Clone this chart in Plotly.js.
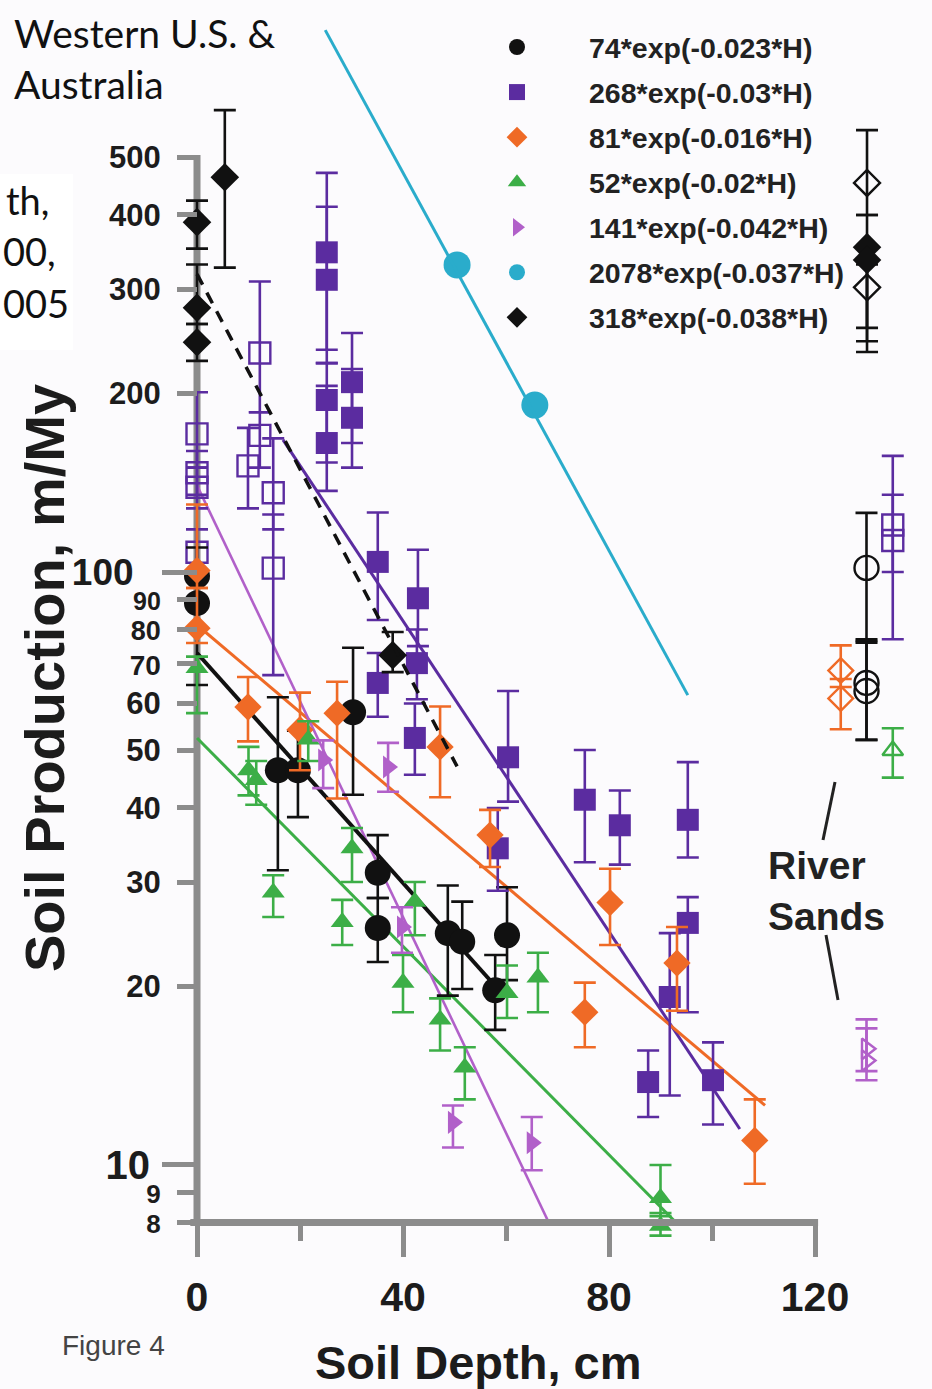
<!DOCTYPE html>
<html><head><meta charset="utf-8">
<script src="https://cdn.plot.ly/plotly-3.0.1.min.js"></script>
<style>html,body{margin:0;padding:0;background:#fcfbfd;} #chart{width:932px;height:1389px;}</style>
</head><body><div id="chart"></div>
<script>
// ---------- data ----------
const legendNames = ['74*exp(-0.023*H)','268*exp(-0.03*H)','81*exp(-0.016*H)','52*exp(-0.02*H)','141*exp(-0.042*H)','2078*exp(-0.037*H)','318*exp(-0.038*H)'];

const circX  = [0, 0, 15.7, 19.6, 30.3, 35.1, 35.1, 48.7, 51.5, 57.9, 60.2];
const circY  = [98.5, 88.6, 46.3, 46.3, 58, 31.1, 25.1, 24.6, 23.8, 19.7, 24.4];
const circHi = [110, 100, 61.5, 54, 74.5, 36.0, 28.2, 29.6, 27.8, 22.6, 29.4];
const circLo = [90, 64.5, 31.4, 38.6, 42.1, 28.2, 22.0, 19.3, 19.8, 16.9, 20.5];

const circOpenX  = [130, 130, 130];
const circOpenY  = [101.6, 65, 63];
const circOpenHi = [125.8, 76.5, 76];
const circOpenLo = [77, 52.1, 52.1];

const sqX  = [25.2, 25.2, 25.2, 25.2, 30.1, 30.1, 35.1, 35.1, 42.9, 42.7, 42.3, 60.4, 58.4, 75.3, 82.1, 95.3, 95.3, 91.8, 87.6, 100.2];
const sqY  = [346, 311, 195, 165, 209, 182, 104, 65, 90.3, 70.2, 52.5, 48.7, 34.2, 41.3, 37.4, 38.2, 25.6, 19.2, 13.8, 13.9];
const sqHi = [471, 413, 225, 206, 253, 220, 126, 73, 109, 80, 60, 63, 40, 50.1, 42.8, 47.8, 28.3, 24.6, 15.6, 16.1];
const sqLo = [237, 225, 153, 137, 165, 150, 83, 57, 75, 61, 45.5, 41, 29, 32.4, 32.1, 33, 18.1, 13.1, 12.05, 11.7];

const sqOpenX  = [0, 0, 0, 0, 9.9, 12.2, 12.2, 14.8, 14.8, 135.1, 135.1];
const sqOpenY  = [171, 147, 139, 108, 151, 234, 170, 136, 101.5, 120, 113];
const sqOpenHi = [201, 160, 150, 118, 175, 309, 186, 168, 125, 157, 135];
const sqOpenLo = [150, 135, 128, 100, 128, 186, 150, 118, 67, 77, 100];

const diaOX  = [0, 0, 9.9, 20, 27.2, 47.2, 56.9, 75.3, 80.2, 93.2, 108.3];
const diaOY  = [100.6, 80.4, 59.2, 54.2, 57.8, 50.7, 36.0, 18.1, 27.7, 21.9, 11.0];
const diaOHi = [130, 94, 66.5, 62.6, 65.3, 59.3, 39.7, 20.3, 31.6, 25.2, 12.9];
const diaOLo = [94, 75.9, 51.8, 46.3, 41.5, 41.7, 31.8, 15.8, 23.5, 18.2, 9.3];

const diaOOpenX  = [125, 125];
const diaOOpenY  = [68.2, 61.2];
const diaOOpenHi = [75.2, 66];
const diaOOpenLo = [64, 54.3];

const triX  = [0, 10, 11.5, 14.8, 21.6, 28.2, 30.1, 40, 42.3, 47.2, 52, 60.2, 66.2, 90, 90];
const triY  = [68.9, 46.3, 44.6, 28.8, 52.2, 25.7, 34.2, 20.3, 27.8, 17.6, 14.6, 19.5, 20.7, 8.8, 7.9];
const triHi = [72, 50.7, 48, 30.8, 56, 28.0, 37, 22.6, 30, 19.1, 15.8, 21.7, 22.8, 10, 8.3];
const triLo = [57.8, 42, 40.5, 26.2, 48, 23.5, 30, 18.1, 24.4, 15.6, 12.9, 17.7, 18.1, 8.2, 7.6];

const triOpenX  = [135.1];
const triOpenY  = [50];
const triOpenHi = [54.5];
const triOpenLo = [45];

const rtX  = [24.5, 37.1, 39.8, 49.7, 65];
const rtY  = [48.2, 46.9, 25.2, 11.8, 10.9];
const rtHi = [52, 51.5, 27.2, 12.6, 12.05];
const rtLo = [43.2, 42.6, 22.8, 10.7, 9.8];

const rtOpenX  = [130, 130];
const rtOpenY  = [15.7, 15.0];
const rtOpenHi = [17.6, 17.0];
const rtOpenLo = [14.4, 13.9];

const cyanX = [50.5, 65.6];
const cyanY = [329.5, 191.2];

const diaKX  = [0, 0, 0, 5.4, 38, 130.1, 130.1];
const diaKY  = [389, 279, 244, 463, 72.4, 353, 336];
const diaKHi = [423, 330, 262, 601, 79.2, 400, 353];
const diaKLo = [351, 262, 227, 326, 67.8, 245, 235];

const diaKOpenX  = [130.1, 130.1];
const diaKOpenY  = [453, 302];
const diaKOpenHi = [556, 330];
const diaKOpenLo = [400, 258];

// fit lines (end points)
const fitBlackX = [0, 58],      fitBlackY = [73, 20];
const fitPurpleX = [16.7, 105.4], fitPurpleY = [167, 11.5];
const fitOrangeX = [0, 110.3],  fitOrangeY = [81.4, 12.6];
const fitGreenX = [0, 93],      fitGreenY = [52.5, 8.0];
const fitMagX = [0, 68.3],      fitMagY = [140, 8.0];
const fitCyanX = [24.9, 95.3],  fitCyanY = [820, 62];
const fitDashX = [0, 50.5],     fitDashY = [318, 47];

const yTickVals = [8, 9, 20, 30, 40, 50, 60, 70, 80, 90, 200, 300, 400, 500];
const yTickText = ['<span style="font-size:26px">8</span>','<span style="font-size:26px">9</span>','20','30','40','50','60','<span style="font-size:28px">70</span>','<span style="font-size:27px">80</span>','<span style="font-size:25px">90</span>','200','300','400','500'];
const yHundredVals = [100], yHundredText = ['100'];
const yTenVals = [10], yTenText = ['10'];

// ---------- styling ----------
const C = {black:'#111111', purple:'#5b2ca0', orange:'#ef6a26', green:'#3cae47', mag:'#b160c9', cyan:'#2aaccb', axis:'#8c8c8c', text:'#1c1c1c'};
const FONT = 'Liberation Sans, Arial, Helvetica, sans-serif';

// plot area in pixels
const L = 166, T = 15, W = 746, H = 1225;
const fx = p => (p - L) / W;
const fy = p => (T + H - p) / H;
const yLogMin = 0.8735, yLogMax = 2.9393;
const yFrac = v => (Math.log10(v) - yLogMin) / (yLogMax - yLogMin);

function err(y, hi, lo, color) {
  return {type:'data', symmetric:false, array: hi.map((h,i)=>h-y[i]), arrayminus: y.map((v,i)=>v-lo[i]), color: color, thickness: 2.6, width: 11};
}
function lineTrace(x, y, color, width, dash, yax) {
  return {x:x, y:y, yaxis: yax || 'y', mode:'lines', line:{color:color, width:width, dash:dash||'solid'}, showlegend:false, hoverinfo:'skip'};
}
function pts(x, y, hi, lo, color, symbol, size, name, group, openMarker) {
  const t = {x:x, y:y, mode:'markers', name:name || '', showlegend: !!name, legendgroup: group,
    marker:{color:color, symbol:symbol, size:size, line: openMarker ? {color:color, width:2.4} : {width:0}}};
  if (hi) t.error_y = err(y, hi, lo, color);
  return t;
}

const traces = [
  lineTrace(fitPurpleX, fitPurpleY, C.purple, 3),
  lineTrace(fitOrangeX, fitOrangeY, C.orange, 3),
  lineTrace(fitGreenX, fitGreenY, C.green, 3),
  lineTrace(fitMagX, fitMagY, C.mag, 2.6),
  lineTrace(fitBlackX, fitBlackY, C.black, 4),

  pts(sqOpenX, sqOpenY, sqOpenHi, sqOpenLo, C.purple, 'square-open', 21, null, 'g2', true),
  pts(circOpenX, circOpenY, circOpenHi, circOpenLo, C.black, 'circle-open', 24, null, 'g1', true),
  pts(diaOOpenX, diaOOpenY, diaOOpenHi, diaOOpenLo, C.orange, 'diamond-open', 19, null, 'g3', true),
  pts(triOpenX, triOpenY, triOpenHi, triOpenLo, C.green, 'triangle-up-open', 18, null, 'g4', true),
  pts(rtOpenX, rtOpenY, rtOpenHi, rtOpenLo, C.mag, 'triangle-right-open', 18, null, 'g5', true),
  pts(diaKOpenX, diaKOpenY, diaKOpenHi, diaKOpenLo, C.black, 'diamond-open', 20, null, 'g7', true),

  pts(circX, circY, circHi, circLo, C.black, 'circle', 26, legendNames[0], 'g1'),
  pts(sqX, sqY, sqHi, sqLo, C.purple, 'square', 22, legendNames[1], 'g2'),
  pts(diaOX, diaOY, diaOHi, diaOLo, C.orange, 'diamond', 21, legendNames[2], 'g3'),
  pts(triX, triY, triHi, triLo, C.green, 'triangle-up', 20, legendNames[3], 'g4'),
  pts(rtX, rtY, rtHi, rtLo, C.mag, 'triangle-right', 20, legendNames[4], 'g5'),
  pts(cyanX, cyanY, null, null, C.cyan, 'circle', 27, legendNames[5], 'g6'),
  pts(diaKX, diaKY, diaKHi, diaKLo, C.black, 'diamond', 22, legendNames[6], 'g7'),

  // these two fit lines sit on overlaying axes (same scale) so those tick axes are rendered
  lineTrace(fitCyanX, fitCyanY, C.cyan, 3, 'solid', 'y2'),
  lineTrace(fitDashX, fitDashY, C.black, 3.5, '12px,9px', 'y3')
];
const order = {g1:1,g2:2,g3:3,g4:4,g5:5,g6:6,g7:7};
traces.forEach(t => { if (t.legendgroup) t.legendrank = order[t.legendgroup]; });

const axisShapes = [
  {type:'line', xref:'x', yref:'paper', x0:-1.3, x1:120.6, y0:yFrac(8), y1:yFrac(8), line:{color:C.axis, width:7}, layer:'above'},
  {type:'line', xref:'x', yref:'paper', x0:0, x1:0, y0:yFrac(8)-0.002, y1:yFrac(505), line:{color:C.axis, width:7}, layer:'below'},
  {type:'rect', xref:'paper', yref:'paper', x0:fx(-5), x1:fx(73), y0:fy(350), y1:fy(174), fillcolor:'#ffffff', line:{width:0}, layer:'below'},
  {type:'line', xref:'paper', yref:'paper', x0:fx(835), y0:fy(782), x1:fx(823), y1:fy(840), line:{color:'#222', width:3}},
  {type:'line', xref:'paper', yref:'paper', x0:fx(826), y0:fy(935), x1:fx(838), y1:fy(1000), line:{color:'#222', width:3}}
];

const ann = (text, x, y, xa, ya, font, extra) => Object.assign({text:text, xref:'paper', yref:'paper', x:fx(x), y:fy(y), xanchor:xa, yanchor:ya, showarrow:false, font:font}, extra||{});
const SLIDE = {family:'Lato, Carlito, sans-serif', size:38, color:'#111'};
const annotations = [
  ann('Western U.S. &amp;<br>Australia', 12, 8, 'left', 'top', Object.assign({}, SLIDE, {size:39}), {align:'left'}),
  ann('th,', 4, 200, 'left', 'middle', SLIDE),
  ann('00,', 1, 251, 'left', 'middle', SLIDE),
  ann('005', 1, 303, 'left', 'middle', SLIDE),
  ann('Figure 4', 60, 1345, 'left', 'middle', {family:FONT, size:28, color:'#444'}),
  ann('Soil Depth, cm', 478, 1362, 'center', 'middle', {family:FONT, size:47, color:C.text, weight:'bold'}),
  ann('Soil Production, m/My', 44, 678, 'center', 'middle', {family:FONT, size:56, color:C.text, weight:'bold'}, {textangle:-90}),
  ann('River<br>Sands', 766, 891, 'left', 'middle', {family:FONT, size:39, color:'#222', weight:'bold'}, {align:'left'})
];

const overlayY = (vals, text, standoff, size) => ({type:'log', range:[yLogMin, yLogMax], overlaying:'y', anchor:'free', position:fx(197), side:'left',
    showgrid:false, zeroline:false, showline:false,
    tickmode:'array', tickvals:vals, ticktext:text, ticks:'outside', ticklen:35, tickwidth:5, tickcolor:C.axis,
    ticklabelstandoff:standoff, tickfont:{family:FONT, size:size, color:C.text, weight:'bold'}});

const layout = {
  width: 932, height: 1389,
  margin: {l:L, r:932-L-W, t:T, b:1389-T-H, pad:0},
  paper_bgcolor:'#fcfbfd', plot_bgcolor:'rgba(0,0,0,0)',
  showlegend: true,
  legend: {x: fx(445), y: fy(22), xanchor:'left', yanchor:'top', bgcolor:'rgba(0,0,0,0)', borderwidth:0,
    font:{family:FONT, size:28.5, color:'#222', weight:'bold'}, traceorder:'grouped', tracegroupgap:5, itemwidth:134},
  xaxis: {range:[(L-197)/5.15, (L+W-197)/5.15], anchor:'free', position:yFrac(8),
    showgrid:false, zeroline:false, showline:false,
    tickmode:'linear', tick0:0, dtick:40, ticks:'outside', ticklen:34, tickwidth:5, tickcolor:C.axis,
    ticklabelstandoff:4, tickfont:{family:FONT, size:41, color:C.text, weight:'bold'},
    minor:{tick0:0, dtick:20, ticks:'outside', ticklen:18, tickwidth:5, tickcolor:C.axis, showgrid:false}},
  yaxis: {type:'log', range:[yLogMin, yLogMax], anchor:'free', position:fx(197),
    showgrid:false, zeroline:false, showline:false,
    tickmode:'array', tickvals:yTickVals, ticktext:yTickText, ticks:'outside', ticklen:20, tickwidth:5, tickcolor:C.axis,
    ticklabelstandoff:10, tickfont:{family:FONT, size:31, color:C.text, weight:'bold'}},
  yaxis2: overlayY(yHundredVals, yHundredText, 21, 37),
  yaxis3: overlayY(yTenVals, yTenText, 4, 40),
  shapes: axisShapes,
  annotations: annotations
};

Plotly.newPlot('chart', traces, layout, {displayModeBar:false, staticPlot:true});
</script>
</body></html>
